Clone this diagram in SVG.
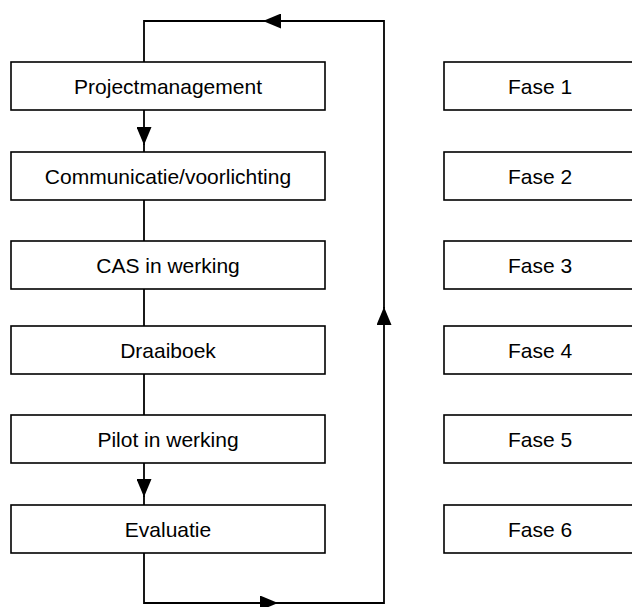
<svg xmlns="http://www.w3.org/2000/svg" width="632" height="607" viewBox="0 0 632 607">
<defs>
<style>
.box{fill:#fff;stroke:#000;stroke-width:1.6}
.lbl{font-family:"Liberation Sans",Arial,sans-serif;font-size:21px;fill:#000;text-anchor:middle}
.con{fill:none;stroke:#000;stroke-width:1.8}
.arr{fill:none;stroke:#000;stroke-width:1.8;marker-end:url(#ah)}
</style>
<marker id="ah" viewBox="0 0 18 15" refX="18" refY="7.5" markerUnits="userSpaceOnUse" markerWidth="18" markerHeight="15" orient="auto">
<path d="M0,0 L18,7.5 L0,15 z" fill="#000"/>
</marker>
</defs>
<rect width="632" height="607" fill="#fff"/>
<g id="connectors">
<path class="arr" d="M144,110 V145"/>
<path class="con" d="M144,144 V152"/>
<path class="con" d="M144,200 V241"/>
<path class="con" d="M144,289 V326"/>
<path class="con" d="M144,374 V415"/>
<path class="arr" d="M144,463 V497"/>
<path class="con" d="M144,496 V505"/>
<path class="arr" d="M144,553 V603 H278"/>
<path class="arr" d="M277,603 H384 V307"/>
<path class="arr" d="M384,308 V21 H263"/>
<path class="con" d="M264,21 H144 V62"/>
</g>
<g id="n-projectmanagement"><rect class="box" x="11" y="62" width="314" height="48"/><text class="lbl" x="168" y="94">Projectmanagement</text></g>
<g id="n-communicatie"><rect class="box" x="11" y="152" width="314" height="48"/><text class="lbl" x="168" y="184">Communicatie/voorlichting</text></g>
<g id="n-cas"><rect class="box" x="11" y="241" width="314" height="48"/><text class="lbl" x="168" y="273">CAS in werking</text></g>
<g id="n-draaiboek"><rect class="box" x="11" y="326" width="314" height="48"/><text class="lbl" x="168" y="358">Draaiboek</text></g>
<g id="n-pilot"><rect class="box" x="11" y="415" width="314" height="48"/><text class="lbl" x="168" y="447">Pilot in werking</text></g>
<g id="n-evaluatie"><rect class="box" x="11" y="505" width="314" height="48"/><text class="lbl" x="168" y="537">Evaluatie</text></g>
<g id="n-fase1"><rect class="box" x="444" y="62" width="192" height="48"/><text class="lbl" x="540" y="94">Fase 1</text></g>
<g id="n-fase2"><rect class="box" x="444" y="152" width="192" height="48"/><text class="lbl" x="540" y="184">Fase 2</text></g>
<g id="n-fase3"><rect class="box" x="444" y="241" width="192" height="48"/><text class="lbl" x="540" y="273">Fase 3</text></g>
<g id="n-fase4"><rect class="box" x="444" y="326" width="192" height="48"/><text class="lbl" x="540" y="358">Fase 4</text></g>
<g id="n-fase5"><rect class="box" x="444" y="415" width="192" height="48"/><text class="lbl" x="540" y="447">Fase 5</text></g>
<g id="n-fase6"><rect class="box" x="444" y="505" width="192" height="48"/><text class="lbl" x="540" y="537">Fase 6</text></g>
</svg>
